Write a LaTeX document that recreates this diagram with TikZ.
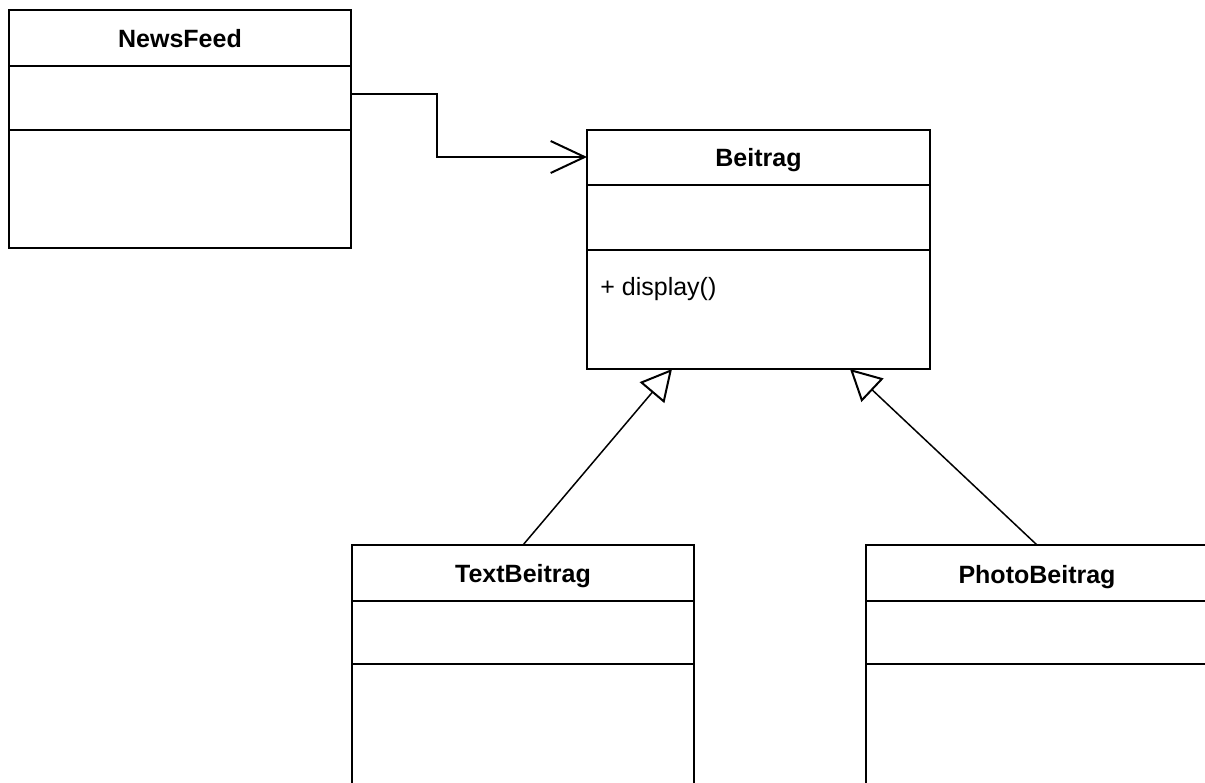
\documentclass[tikz,border=0pt]{standalone}
\usepackage{fontspec}
\setmainfont{Liberation Sans}
\usetikzlibrary{arrows.meta}
\begin{document}
\begin{tikzpicture}[x=0.5pt,y=-0.5pt,
  classbox/.style={draw=black, line width=1pt, rectangle, inner sep=0pt, outer sep=0pt, anchor=north west, minimum width=171pt},
  classtitle/.style={font=\fontsize{12.5}{15}\selectfont\bfseries, anchor=base, inner sep=0pt},
  member/.style={font=\fontsize{12.5}{15}\selectfont, anchor=base west, inner sep=0pt},
  divider/.style={draw=black, line width=1pt},
  assoc/.style={draw=black, line width=1pt, -{Straight Barb[length=17pt,width=16pt,line width=1pt]}},
  inherit/.style={draw=black, line width=0.75pt, -{Triangle[open,length=15.5pt,width=16pt,line width=1pt,fill=white]}}]
\useasboundingbox (0,0) rectangle (1205,782);
\clip (0,0) rectangle (1205,782);
\fill[white] (0,0) rectangle (1205,782);

% NewsFeed
\node[classbox, minimum height=119pt] (nf) at (9,10) {};
\node[classtitle] (nft) at (180,47) {NewsFeed};
\draw[divider] (9,66) -- (351,66);
\draw[divider] (9,130) -- (351,130);

% Beitrag
\node[classbox, minimum width=171.5pt, minimum height=119.5pt] (bt) at (587,130) {};
\node[classtitle] (btt) at (758.5,166.5) {Beitrag};
\draw[divider] (587,185) -- (930,185);
\draw[divider] (587,250) -- (930,250);
\node[member] (btm) at (600,295) {+ display()};

% TextBeitrag
\node[classbox, minimum height=160pt] (tb) at (352,545) {};
\node[classtitle] (tbt) at (523,582.5) {TextBeitrag};
\draw[divider] (352,601) -- (694,601);
\draw[divider] (352,664) -- (694,664);

% PhotoBeitrag
\node[classbox, minimum height=160pt] (pb) at (866,545) {};
\node[classtitle] (pbt) at (1037,583) {PhotoBeitrag};
\draw[divider] (866,601) -- (1208,601);
\draw[divider] (866,664) -- (1208,664);

% connectors
\draw[assoc] ([yshift=-42pt]nf.north east) -| (437,157) -- ([yshift=-13.5pt]bt.north west);
\draw[inherit] ([xshift=85.5pt]tb.north west) -- ([xshift=42.5pt]bt.south west);
\draw[inherit] ([xshift=85.5pt]pb.north west) -- ([xshift=131.5pt]bt.south west);
\end{tikzpicture}
\end{document}
